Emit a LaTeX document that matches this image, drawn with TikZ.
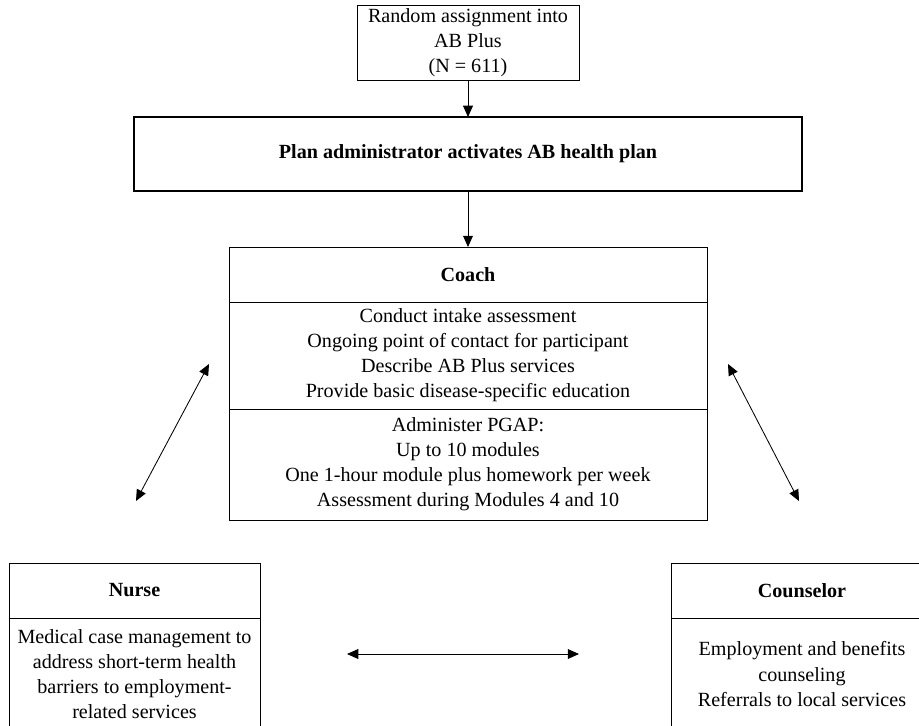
\documentclass[tikz,border=0pt]{standalone}
\usepackage{fontspec}
\setmainfont{Liberation Serif}
\usetikzlibrary{positioning,arrows.meta}

\begin{document}
\begin{tikzpicture}[x=0.025cm,y=-0.025cm,
    box/.style={draw,line width=0.6pt,outer sep=0pt,inner sep=2pt,align=center,
      font=\fontsize{14.3}{17.8}\selectfont},
    head/.style={box,minimum height=1.375cm,font=\fontsize{14.3}{17.8}\selectfont\bfseries},
    flow/.style={line width=0.6pt,-{Triangle[length=8pt,width=7pt]}},
    link/.style={line width=0.6pt,{Triangle[length=8pt,width=7pt]}-{Triangle[length=8pt,width=7pt]}}
  ]
  \useasboundingbox (0,0) rectangle (919,725);

  % the flow at the top
  \node[box,minimum width=5.55cm,minimum height=1.875cm] (assign) at (468,42.5)
    {Random assignment into\\AB Plus\\(N = 611)};
  \node[head,line width=0.9pt,minimum width=16.7cm,minimum height=1.85cm] (plan) at (468,154)
    {Plan administrator activates AB health plan};

  % the coach
  \node[head,minimum width=11.95cm] (coach) at (468,274.5) {Coach};
  \node[box,minimum width=11.95cm,minimum height=2.675cm,below=0pt of coach] (tasks)
    {Conduct intake assessment\\Ongoing point of contact for participant\\
     Describe AB Plus services\\Provide basic disease-specific education};
  \node[box,minimum width=11.95cm,minimum height=2.775cm,below=0pt of tasks] (pgap)
    {Administer PGAP:\\Up to 10 modules\\One 1-hour module plus homework per week\\
     Assessment during Modules 4 and 10};

  % the nurse
  \node[head,minimum width=6.275cm] (nurse) at (134.5,590.5) {Nurse};
  \node[box,minimum width=6.275cm,minimum height=2.8cm,below=0pt of nurse] (care)
    {Medical case management to\\address short-term health\\barriers to employment-\\related services};

  % the counselor
  \node[head,minimum width=6.55cm] (counsel) at (802,590.5) {Counselor};
  \node[box,minimum width=6.55cm,minimum height=2.8cm,below=0pt of counsel] (refer)
    {Employment and benefits\\counseling\\Referrals to local services};

  % the ends of the two-way arrows
  \coordinate (cn1) at (209,364);
  \coordinate (cn2) at (136,501);
  \coordinate (cc1) at (728,364);
  \coordinate (cc2) at (799,501);
  \coordinate (nc1) at (347,654);
  \coordinate (nc2) at (579,654);

  % the edges
  \draw[flow] (assign) -- (plan);
  \draw[flow] (plan) -- (coach);
  \draw[link] (cn1) -- (cn2);
  \draw[link] (cc1) -- (cc2);
  \draw[link] (nc1) -- (nc2);
\end{tikzpicture}
\end{document}
